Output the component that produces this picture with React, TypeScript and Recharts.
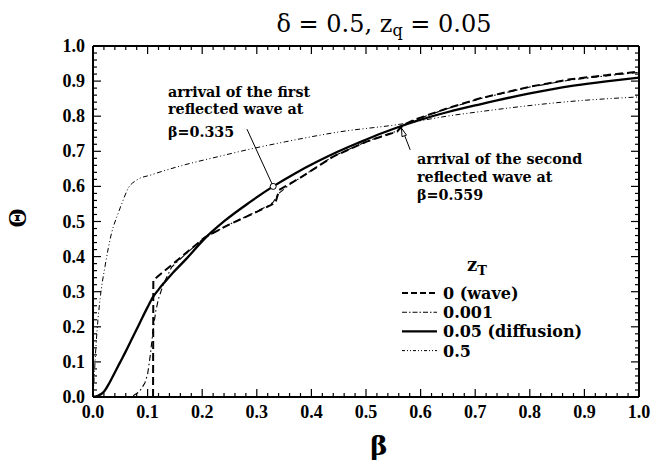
import React from 'react';
import { LineChart, Line, XAxis, YAxis, ReferenceLine, ReferenceDot, Legend, Customized } from 'recharts';

// ---------- data ----------
const xMajorTicks = [0, 0.1, 0.2, 0.3, 0.4, 0.5, 0.6, 0.7, 0.8, 0.9, 1.0];
const xTickLabels = ['0.0', '0.1', '0.2', '0.3', '0.4', '0.5', '0.6', '0.7', '0.8', '0.9', '1.0'];
const yMajorTicks = [0, 0.1, 0.2, 0.3, 0.4, 0.5, 0.6, 0.7, 0.8, 0.9, 1.0];
const yTickLabels = ['0.0', '0.1', '0.2', '0.3', '0.4', '0.5', '0.6', '0.7', '0.8', '0.9', '1.0'];

const seriesNames = ['0 (wave)', '0.001', '0.05 (diffusion)', '0.5'];

// z_T = 0 (wave)
const waveBeta = [0, 0.11, 0.1105, 0.125, 0.144, 0.168, 0.205, 0.25, 0.288, 0.321, 0.334, 0.341, 0.379, 0.44, 0.5, 0.532, 0.557, 0.565, 0.587, 0.65, 0.709, 0.8, 0.874, 0.94, 1.0];
const waveTheta = [0, 0, 0.333, 0.352, 0.376, 0.407, 0.455, 0.492, 0.519, 0.543, 0.553, 0.59, 0.624, 0.685, 0.727, 0.744, 0.756, 0.772, 0.789, 0.823, 0.851, 0.884, 0.905, 0.917, 0.927];

// z_T = 0.001
const zt001Beta = [0, 0.07, 0.085, 0.095, 0.1, 0.105, 0.11, 0.115, 0.12, 0.129, 0.144, 0.168, 0.205, 0.25, 0.288, 0.321, 0.33, 0.34, 0.36, 0.379, 0.44, 0.5, 0.532, 0.559, 0.57, 0.587, 0.65, 0.709, 0.8, 0.874, 0.94, 1.0];
const zt001Theta = [0, 0, 0.015, 0.04, 0.065, 0.12, 0.19, 0.245, 0.28, 0.322, 0.37, 0.405, 0.455, 0.492, 0.52, 0.545, 0.555, 0.58, 0.605, 0.624, 0.686, 0.727, 0.745, 0.759, 0.774, 0.788, 0.822, 0.85, 0.883, 0.903, 0.915, 0.925];

// z_T = 0.05 (diffusion)
const diffBeta = [0, 0.01, 0.02, 0.03, 0.04, 0.05, 0.06, 0.07, 0.08, 0.09, 0.1, 0.11, 0.12, 0.13, 0.144, 0.17, 0.205, 0.242, 0.288, 0.33, 0.37, 0.41, 0.45, 0.489, 0.53, 0.556, 0.6, 0.65, 0.709, 0.8, 0.874, 0.94, 1.0];
const diffTheta = [0, 0.004, 0.015, 0.04, 0.07, 0.1, 0.13, 0.162, 0.193, 0.225, 0.256, 0.285, 0.306, 0.325, 0.35, 0.392, 0.452, 0.503, 0.556, 0.6, 0.637, 0.67, 0.7, 0.726, 0.752, 0.767, 0.79, 0.812, 0.834, 0.865, 0.886, 0.899, 0.91];

// z_T = 0.5
const zt05Beta = [0, 0.002, 0.004, 0.008, 0.013, 0.022, 0.034, 0.046, 0.053, 0.065, 0.08, 0.107, 0.162, 0.23, 0.29, 0.352, 0.45, 0.562, 0.648, 0.709, 0.874, 1.0];
const zt05Theta = [0, 0.05, 0.108, 0.2, 0.28, 0.372, 0.467, 0.523, 0.552, 0.596, 0.618, 0.633, 0.659, 0.685, 0.707, 0.727, 0.755, 0.777, 0.8, 0.813, 0.842, 0.855];

// annotation anchor points (beta, theta)
const firstArrow = [{ x: 0.282, y: 0.763 }, { x: 0.33, y: 0.6 }];
const secondArrow = [{ x: 0.581, y: 0.704 }, { x: 0.567, y: 0.76 }];
const secondTip = { x: 0.565, y: 0.766 };

// ---------- layout ----------
const W = 661;
const H = 461;
const PLOT = { left: 93, right: 639, top: 46, bottom: 397 };
const Y_AXIS_W = 60;
const X_AXIS_H = 30;

const toData = (bs: number[], ts: number[]) => bs.map((b, i) => ({ b, t: ts[i] }));
const waveData = toData(waveBeta, waveTheta);
const zt001Data = toData(zt001Beta, zt001Theta);
const diffData = toData(diffBeta, diffTheta);
const zt05Data = toData(zt05Beta, zt05Theta);

const withMinors = (majors: number[]) => {
  const out: number[] = [];
  for (let i = 0; i < majors.length; i++) {
    out.push(majors[i]);
    if (i < majors.length - 1) {
      const step = (majors[i + 1] - majors[i]) / 5;
      for (let k = 1; k < 5; k++) out.push(Math.round((majors[i] + k * step) * 1000) / 1000);
    }
  }
  return out;
};
const xTicksAll = withMinors(xMajorTicks);
const yTicksAll = withMinors(yMajorTicks);

const TICK_FONT = { fontFamily: '"Liberation Serif", serif', fontWeight: 'bold' as const, fontSize: 18 };
const ANN_FONT = { fontFamily: '"DejaVu Serif", serif', fontWeight: 'bold' as const, fontSize: 14.3 };

const majorIndex = (arr: number[], v: number) => arr.findIndex((m) => Math.abs(m - v) < 1e-6);

const XTick = (props: any) => {
  const { x, payload } = props;
  const idx = majorIndex(xMajorTicks, payload.value);
  const len = idx >= 0 ? 8 : 4;
  return (
    <g>
      <line x1={x} x2={x} y1={PLOT.bottom} y2={PLOT.bottom - len} stroke="#000" strokeWidth={1.2} />
      <line x1={x} x2={x} y1={PLOT.top} y2={PLOT.top + len} stroke="#000" strokeWidth={1.2} />
      {idx >= 0 && (
        <text x={x} y={PLOT.bottom + 21} textAnchor="middle" fill="#000" style={TICK_FONT}>
          {xTickLabels[idx]}
        </text>
      )}
    </g>
  );
};

const YTick = (props: any) => {
  const { y, payload } = props;
  const idx = majorIndex(yMajorTicks, payload.value);
  const len = idx >= 0 ? 8 : 4;
  return (
    <g>
      <line x1={PLOT.left} x2={PLOT.left + len} y1={y} y2={y} stroke="#000" strokeWidth={1.2} />
      <line x1={PLOT.right} x2={PLOT.right - len} y1={y} y2={y} stroke="#000" strokeWidth={1.2} />
      {idx >= 0 && (
        <text x={PLOT.left - 8} y={y + 6} textAnchor="end" fill="#000" style={TICK_FONT}>
          {yTickLabels[idx]}
        </text>
      )}
    </g>
  );
};

const lineStyles = [
  { dash: '8 4', width: 2 },
  { dash: '6 3 1.5 3', width: 1.1 },
  { dash: undefined as string | undefined, width: 2.3 },
  { dash: '5 2.5 1 2.5 1 2.5', width: 1 },
];
const legendDash = ['6 3', '5 2 1.5 2', undefined, '3 2 1 2 1 2'];

const LegendBox = () => (
  <svg width={250} height={115} style={{ overflow: 'visible' }}>
    <text x={69} y={21} style={{ fontFamily: '"DejaVu Serif", serif', fontWeight: 'bold', fontSize: 18 }} fill="#000">
      z
      <tspan dy={4} style={{ fontSize: 13 }}>T</tspan>
    </text>
    {seriesNames.map((name, i) => {
      const cy = 43 + i * 19.2;
      return (
        <g key={name}>
          <line x1={4} x2={39} y1={cy} y2={cy} stroke="#000" strokeWidth={lineStyles[i].width} strokeDasharray={legendDash[i]} />
          <text x={45} y={cy + 6} style={{ fontFamily: '"DejaVu Serif", serif', fontWeight: 'bold', fontSize: 16 }} fill="#000">
            {name}
          </text>
        </g>
      );
    })}
  </svg>
);

const ArrowHead = (props: any) => {
  const { cx, cy } = props;
  if (cx == null || cy == null) return null;
  const pts = `${cx},${cy} ${cx + 5},${cy + 7} ${cx + 0.5},${cy + 8.5}`;
  return <polygon points={pts} fill="#fff" stroke="#000" strokeWidth={1} />;
};

const Texts = () => (
  <g>
    <text x={384} y={32} textAnchor="middle" fill="#000" style={{ fontFamily: '"DejaVu Serif", serif', fontSize: 24 }}>
      δ = 0.5, z<tspan dy={4} style={{ fontSize: 16 }}>q</tspan>
      <tspan dy={-4}> = 0.05</tspan>
    </text>
    <text x={379} y={455} textAnchor="middle" fill="#000" style={{ fontFamily: '"DejaVu Serif", serif', fontWeight: 'bold', fontSize: 26 }}>
      β
    </text>
    <text
      x={0}
      y={0}
      transform="translate(26,218) rotate(-90)"
      textAnchor="middle"
      fill="#000"
      style={{ fontFamily: '"Liberation Serif", serif', fontWeight: 'bold', fontSize: 25 }}
    >
      Θ
    </text>
    <g style={ANN_FONT} fill="#000">
      <text x={168} y={97}>arrival of the first</text>
      <text x={168} y={114}>reflected wave at</text>
      <text x={168} y={137}>β=0.335</text>
      <text x={417} y={164}>arrival of the second</text>
      <text x={417} y={182}>reflected wave at</text>
      <text x={417} y={200}>β=0.559</text>
    </g>
  </g>
);

export default function App() {
  return (
    <div style={{ position: 'absolute', left: 0, top: 0, width: W, height: H, background: '#fff' }}>
      <LineChart
        width={W}
        height={H}
        margin={{ top: PLOT.top, right: W - PLOT.right, bottom: H - PLOT.bottom - X_AXIS_H, left: PLOT.left - Y_AXIS_W }}
      >
        <XAxis
          dataKey="b"
          type="number"
          domain={[0, 1]}
          ticks={xTicksAll}
          interval={0}
          tick={XTick}
          tickLine={false}
          height={X_AXIS_H}
          axisLine={{ stroke: '#000', strokeWidth: 2 }}
          allowDataOverflow
        />
        <YAxis
          type="number"
          domain={[0, 1]}
          ticks={yTicksAll}
          interval={0}
          tick={YTick}
          tickLine={false}
          width={Y_AXIS_W}
          axisLine={{ stroke: '#000', strokeWidth: 2 }}
          allowDataOverflow
        />
        <ReferenceLine y={1} stroke="#000" strokeWidth={2} />
        <ReferenceLine x={1} stroke="#000" strokeWidth={2} />
        <Line data={zt05Data} dataKey="t" type="monotone" dot={false} stroke="#000" strokeWidth={lineStyles[3].width} strokeDasharray={lineStyles[3].dash} isAnimationActive={false} />
        <Line data={zt001Data} dataKey="t" type="linear" dot={false} stroke="#000" strokeWidth={lineStyles[1].width} strokeDasharray={lineStyles[1].dash} isAnimationActive={false} />
        <Line data={waveData} dataKey="t" type="linear" dot={false} stroke="#000" strokeWidth={lineStyles[0].width} strokeDasharray={lineStyles[0].dash} isAnimationActive={false} />
        <Line data={diffData} dataKey="t" type="monotone" dot={false} stroke="#000" strokeWidth={lineStyles[2].width} isAnimationActive={false} />
        <ReferenceLine segment={firstArrow} stroke="#000" strokeWidth={1} />
        <ReferenceDot x={firstArrow[1].x} y={firstArrow[1].y} r={3} fill="#fff" stroke="#000" strokeWidth={1} />
        <ReferenceLine segment={secondArrow} stroke="#000" strokeWidth={1} />
        <ReferenceDot x={secondTip.x} y={secondTip.y} shape={ArrowHead} />
        <Legend
          layout="vertical"
          align="center"
          verticalAlign="middle"
          content={LegendBox}
          wrapperStyle={{ left: 398, top: 250, width: 250, height: 115 }}
        />
        <Customized component={Texts} />
      </LineChart>
    </div>
  );
}
